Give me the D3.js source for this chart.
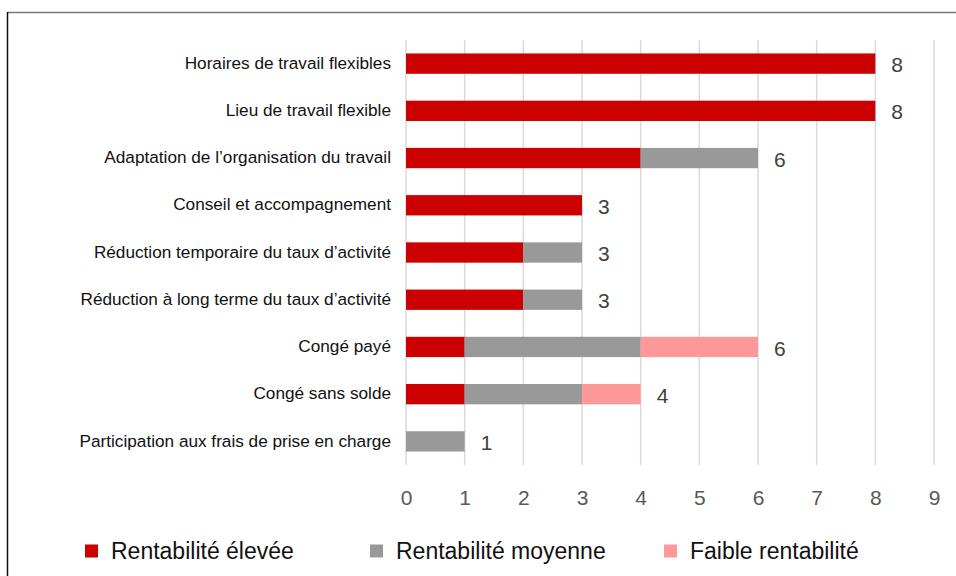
<!DOCTYPE html>
<html><head><meta charset="utf-8">
<script src="https://cdn.jsdelivr.net/npm/d3@7"></script>
<style>body{margin:0;background:#fff}svg{display:block;font-family:"Liberation Sans",Arial,sans-serif}</style>
</head><body><svg id="c" width="956" height="576"></svg>
<script>
const categories = ["Horaires de travail flexibles","Lieu de travail flexible","Adaptation de l’organisation du travail","Conseil et accompagnement","Réduction temporaire du taux d’activité","Réduction à long terme du taux d’activité","Congé payé","Congé sans solde","Participation aux frais de prise en charge"];
const seriesNames = ["Rentabilité élevée","Rentabilité moyenne","Faible rentabilité"];
const eleve = [8,8,4,3,2,2,1,1,0];
const moyenne = [0,0,2,0,1,1,3,2,1];
const faible = [0,0,0,0,0,0,2,1,0];
const xTicks = [0,1,2,3,4,5,6,7,8,9];
const colors = ["#CC0000","#999999","#FF9999"];

const svg = d3.select("#c");
// frame
svg.append("line").attr("x1",7.5).attr("x2",956).attr("y1",12.5).attr("y2",12.5).attr("stroke","#777").attr("stroke-width",1.5);
svg.append("line").attr("x1",7.5).attr("x2",7.5).attr("y1",12).attr("y2",576).attr("stroke","#111").attr("stroke-width",1.5);

const x = d3.scaleLinear().domain([0,9]).range([406,934]);
const y = d3.scaleBand().domain(categories).range([40,465]).paddingInner(0.57).paddingOuter(0.285);

// gridlines
svg.append("g").selectAll("line").data(xTicks).join("line")
  .attr("x1",d=>x(d)).attr("x2",d=>x(d)).attr("y1",40).attr("y2",465)
  .attr("stroke","#d9d9d9").attr("stroke-width",1.5);

const data = categories.map((c,i)=>({c, v:[eleve[i],moyenne[i],faible[i]]}));
const stack = d3.stack().keys([0,1,2]).value((d,k)=>d.v[k])(data);
svg.append("g").selectAll("g").data(stack).join("g").attr("fill",(d,i)=>colors[i])
  .selectAll("rect").data(d=>d.filter(s=>s[1]>s[0])).join("rect")
  .attr("x",d=>x(d[0])).attr("width",d=>x(d[1])-x(d[0]))
  .attr("y",d=>y(d.data.c)).attr("height",y.bandwidth());

// value labels
svg.append("g").selectAll("text").data(data).join("text")
  .attr("x",d=>x(d3.sum(d.v))+16).attr("y",d=>y(d.c)+y.bandwidth()/2+1)
  .attr("dy","0.36em").attr("font-size",21).attr("fill","#404040")
  .text(d=>d3.sum(d.v));

// category labels
const yAxis = d3.axisLeft(y).tickSize(0).tickPadding(15);
const gy = svg.append("g").attr("transform","translate(406,0)").call(yAxis);
gy.select(".domain").remove();
gy.selectAll("text").attr("font-size",17.2).attr("fill","#111").attr("font-family","Liberation Sans, Arial, sans-serif").attr("dy","0.3em");

// x axis
const xAxis = d3.axisBottom(x).tickValues(xTicks).tickSize(0).tickPadding(14);
const gx = svg.append("g").attr("transform","translate(0,476)").call(xAxis);
gx.select(".domain").remove();
gx.selectAll("text").attr("font-size",21).attr("fill","#595959").attr("font-family","Liberation Sans, Arial, sans-serif");

// legend
const legX = [85,370,664];
const lg = svg.append("g").selectAll("g").data(seriesNames).join("g")
  .attr("transform",(d,i)=>`translate(${legX[i]},551)`);
lg.append("rect").attr("x",0).attr("y",-6.5).attr("width",13).attr("height",13).attr("fill",(d,i)=>colors[i]);
lg.append("text").attr("x",26).attr("dy","0.36em").attr("font-size",23).attr("fill","#111").text(d=>d);
</script></body></html>
